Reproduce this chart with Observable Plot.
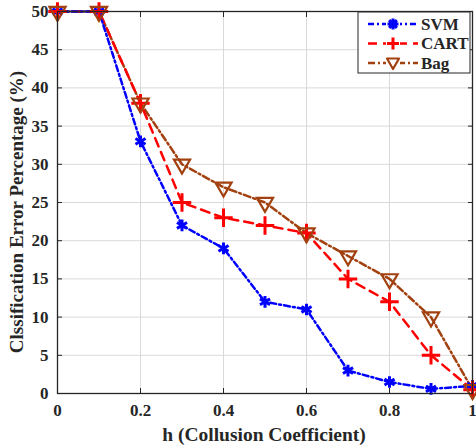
<!DOCTYPE html>
<html><head><meta charset="utf-8">
<script src="https://cdn.jsdelivr.net/npm/d3@7"></script>
<script src="https://cdn.jsdelivr.net/npm/@observablehq/plot@0.6"></script>
<style>
body{margin:0;background:#fff;}
svg{font-family:"Liberation Serif","Times New Roman",serif;}
</style>
</head><body><div id="chart"></div>
<script>
const h = [0, 0.1, 0.2, 0.3, 0.4, 0.5, 0.6, 0.7, 0.8, 0.9, 1];
const svm = [50, 50, 33, 22, 19, 12, 11, 3, 1.5, 0.6, 1];
const cart = [50, 50, 38, 25, 23, 22, 21, 15, 12, 5, 0.5];
const bag = [50, 50, 38, 30, 27, 25, 21, 18, 15, 10, 0.5];
const xTicks = [0, 0.2, 0.4, 0.6, 0.8, 1];
const yTicks = [0, 5, 10, 15, 20, 25, 30, 35, 40, 45, 50];
const seriesNames = ["SVM", "CART", "Bag"];
const colors = ["#0000ff", "#ff0000", "#a2400f"];

const rows = (vals) => h.map((x, i) => ({x, y: vals[i]}));
const dSvm = rows(svm), dCart = rows(cart), dBag = rows(bag);
const blank = () => "";

const chart = Plot.plot({
  width: 476, height: 448,
  marginLeft: 57, marginRight: 4, marginTop: 11, marginBottom: 55,
  style: {fontFamily: "Liberation Serif, serif", fontSize: "17px", fontWeight: "bold", color: "#262626"},
  x: {type: "linear", domain: [0, 1]},
  y: {type: "linear", domain: [0, 50]},
  marks: [
    Plot.gridX(xTicks, {stroke: "#d9d9d9", strokeOpacity: 1, strokeWidth: 1}),
    Plot.gridY(yTicks, {stroke: "#d9d9d9", strokeOpacity: 1, strokeWidth: 1}),
    Plot.axisX(xTicks, {anchor: "bottom", tickSize: 0, tickPadding: 10, label: null, fontSize: 17, fontWeight: "bold", tickFormat: d => String(d)}),
    Plot.axisY(yTicks, {anchor: "left", tickSize: 0, tickPadding: 9, label: null, fontSize: 17, fontWeight: "bold"}),
    Plot.axisX(xTicks, {anchor: "bottom", tickSize: -5, tickFormat: blank, label: null, stroke: "#262626"}),
    Plot.axisX(xTicks, {anchor: "top", tickSize: -5, tickFormat: blank, label: null, stroke: "#262626"}),
    Plot.axisY(yTicks, {anchor: "left", tickSize: -5, tickFormat: blank, label: null, stroke: "#262626"}),
    Plot.axisY(yTicks, {anchor: "right", tickSize: -5, tickFormat: blank, label: null, stroke: "#262626"}),
    Plot.line(dBag, {x: "x", y: "y", stroke: colors[2], strokeWidth: 2.5, strokeDasharray: "7,3,2,3"}),
    Plot.line(dCart, {x: "x", y: "y", stroke: colors[1], strokeWidth: 2.5, strokeDasharray: "9,6"}),
    Plot.line(dSvm, {x: "x", y: "y", stroke: colors[0], strokeWidth: 2.5, strokeDasharray: "6,3,2,3"}),
    Plot.dot(dSvm, {x: "x", y: "y", symbol: "asterisk", r: 5.5, stroke: colors[0], strokeWidth: 3}),
    Plot.dot(dCart, {x: "x", y: "y", symbol: "plus", r: 6, stroke: colors[1], strokeWidth: 3}),
    Plot.dot(dBag, {x: "x", y: "y", symbol: "triangle", rotate: 180, r: 6, stroke: colors[2], strokeWidth: 2.2, fill: "none"}),
    Plot.frame({stroke: "#262626", strokeWidth: 1.3})
  ]
});

const svg = d3.select(chart);
svg.append("text").attr("x", 264).attr("y", 441).attr("text-anchor", "middle")
  .attr("font-size", 19.5).attr("font-weight", "bold").attr("fill", "#262626")
  .text("h (Collusion Coefficient)");
svg.append("text").attr("transform", "translate(23,212) rotate(-90)").attr("text-anchor", "middle")
  .attr("font-size", 19).attr("font-weight", "bold").attr("fill", "#262626")
  .text("Clssification Error Percentage (%)");

const lg = svg.append("g");
lg.append("rect").attr("x", 358).attr("y", 12).attr("width", 112).attr("height", 61)
  .attr("fill", "#fff").attr("stroke", "#262626").attr("stroke-width", 1);
const dashes = ["6,3,2,3", "9,6", "7,3,2,3"];
const glyphs = [
  "M0,-5.5V5.5M-5.5,0H5.5M-3.9,-3.9L3.9,3.9M-3.9,3.9L3.9,-3.9",
  "M-6,0H6M0,-6V6",
  "M0,6L-6,-4.5H6Z"
];
seriesNames.forEach((name, i) => {
  const yy = 24 + i * 19.5;
  lg.append("line").attr("x1", 368).attr("x2", 418).attr("y1", yy).attr("y2", yy)
    .attr("stroke", colors[i]).attr("stroke-width", 2.5).attr("stroke-dasharray", dashes[i]);
  lg.append("rect").attr("x", 386).attr("y", yy - 7).attr("width", 14).attr("height", 14).attr("fill", "#fff");
  lg.append("path").attr("d", glyphs[i]).attr("transform", `translate(393,${yy})`)
    .attr("fill", "none").attr("stroke", colors[i]).attr("stroke-width", i === 2 ? 2.2 : 3)
    .attr("stroke-linejoin", "round");
  lg.append("text").attr("x", 421).attr("y", yy + 5.5).attr("text-anchor", "start")
    .attr("font-size", 17).attr("font-weight", "bold").attr("fill", "#262626").text(name);
});
document.getElementById("chart").appendChild(chart);
</script>
</body></html>
